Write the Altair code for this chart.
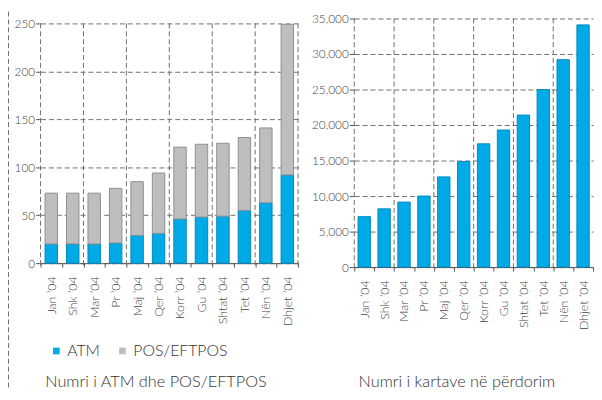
import altair as alt
import pandas as pd

months = ["Jan ’04", "Shk ’04", "Mar ’04", "Pr ’04", "Maj ’04", "Qer ’04",
          "Korr ’04", "Gu ’04", "Shtat ’04", "Tet ’04", "Nën ’04", "Dhjet ’04"]
atm = [20, 20, 20, 21, 29, 31, 46, 48, 49, 55, 63, 92]
pos = [53, 53, 53, 57, 56, 63, 75, 76, 76, 76, 78, 157]
cards = [7100, 8200, 9150, 10000, 12700, 14850, 17350, 19300, 21400, 25000, 29200, 34100]
series = ["ATM", "POS/EFTPOS"]
title_left = "Numri i ATM dhe POS/EFTPOS"
title_right = "Numri i kartave në përdorim"

BLUE = "#00AAE7"
BLUE_EDGE = "#0088BE"
GRAY = "#BDBEC0"
GRAY_EDGE = "#8E8F91"
GRID = "#6E6E6E"
FONT = "Lato"
WEIGHT = 300

rows = []
for i, m in enumerate(months):
    rows.append({"month": m, "series": series[0], "value": atm[i], "ord": 0})
    rows.append({"month": m, "series": series[1], "value": pos[i], "ord": 1})
df_left = pd.DataFrame(rows)
df_right = pd.DataFrame({"month": months, "cards": cards})
bounds = pd.DataFrame({"month": months[0::2]})
last = pd.DataFrame({"month": [months[-1]]})
one = pd.DataFrame({"a": [0]})
t_left = pd.DataFrame({"t": [title_left]})
t_right = pd.DataFrame({"t": [title_right]})

LW, LH = 261, 243
RW, RH = 242, 247
TITLE_Y = 369

xscale = alt.Scale(domain=months, paddingInner=0, paddingOuter=0)
xaxis = alt.Axis(title=None, labelAngle=-90, tickBand="extent", labelPadding=9,
                 tickSize=4, grid=False, domain=True, domainColor="#555",
                 tickColor="#555", labelColor="#444", labelFontSize=12.5, labelFont=FONT,
                 labelFontWeight=WEIGHT)

def yaxis(fmt, extent):
    return alt.Axis(title=None, format=fmt, grid=True, gridDash=[5, 3], gridColor=GRID,
                    gridOpacity=1, domain=False, tickSize=5, tickColor="#555",
                    labelPadding=1, labelColor="#444", labelFontSize=12, labelFont=FONT,
                    labelFontWeight=WEIGHT, minExtent=extent, maxExtent=extent)

dash_rule = dict(strokeDash=[5, 3], color=GRID, strokeWidth=1)
title_style = dict(fontSize=16.5, font=FONT, fontWeight=WEIGHT, color="#333",
                   align="center", baseline="alphabetic")

# Left chart
left_bars = alt.Chart(df_left).mark_bar(width={"band": 0.58}, strokeWidth=1).encode(
    x=alt.X("month:N", scale=xscale, axis=xaxis),
    y=alt.Y("value:Q", stack="zero", scale=alt.Scale(domain=[0, 250], nice=False),
            axis=yaxis("d", 33)),
    color=alt.Color("series:N", scale=alt.Scale(domain=series, range=[BLUE, GRAY]),
                    legend=alt.Legend(title=None, orient="none", legendX=8, legendY=324,
                                      direction="horizontal", symbolType="square",
                                      symbolSize=45, symbolStrokeWidth=0,
                                      labelFontSize=16, labelFont=FONT, labelColor="#333",
                                      labelFontWeight=WEIGHT,
                                      columnPadding=14, labelOffset=3)),
    stroke=alt.Stroke("series:N", scale=alt.Scale(domain=series, range=[BLUE_EDGE, GRAY_EDGE]),
                      legend=None),
    order=alt.Order("ord:Q"),
)
left_vgrid = alt.Chart(bounds).mark_rule(**dash_rule).encode(
    x=alt.X("month:N", scale=xscale, bandPosition=0),
    y=alt.value(0), y2=alt.value(LH + 3),
)
left_edge = alt.Chart(last).mark_rule(**dash_rule).encode(
    x=alt.X("month:N", scale=xscale, bandPosition=1),
    y=alt.value(0), y2=alt.value(LH + 3),
)
frame = alt.Chart(one).mark_rule(**dash_rule).encode(
    x=alt.value(-32.5), y=alt.value(-12), y2=alt.value(372),
)
left_title = alt.Chart(t_left).mark_text(**title_style).encode(
    text="t:N", x=alt.value(117), y=alt.value(TITLE_Y),
)
left = alt.layer(left_vgrid, left_edge, frame, left_bars, left_title).properties(
    width=LW, height=LH,
)

# Right chart
right_bars = alt.Chart(df_right).mark_bar(width={"band": 0.62}, color=BLUE, stroke=BLUE_EDGE,
                                          strokeWidth=1).encode(
    x=alt.X("month:N", scale=xscale, axis=xaxis),
    y=alt.Y("cards:Q", scale=alt.Scale(domain=[0, 35000], nice=False, range=[RH, -5]),
            axis=yaxis(",d", 45)),
)
right_vgrid = alt.Chart(bounds).mark_rule(**dash_rule).encode(
    x=alt.X("month:N", scale=xscale, bandPosition=0),
    y=alt.value(-5), y2=alt.value(RH),
)
right_title = alt.Chart(t_right).mark_text(**title_style).encode(
    text="t:N", x=alt.value(104), y=alt.value(TITLE_Y),
)
right = alt.layer(right_vgrid, right_bars, right_title).properties(
    width=RW, height=RH,
)

chart = alt.hconcat(left, right, spacing=11).resolve_scale(
    color="independent", stroke="independent", y="independent"
).configure(padding=0, background="white").configure_view(stroke=None)

chart.save("out.html", embed_options={"renderer": "svg", "actions": False})
